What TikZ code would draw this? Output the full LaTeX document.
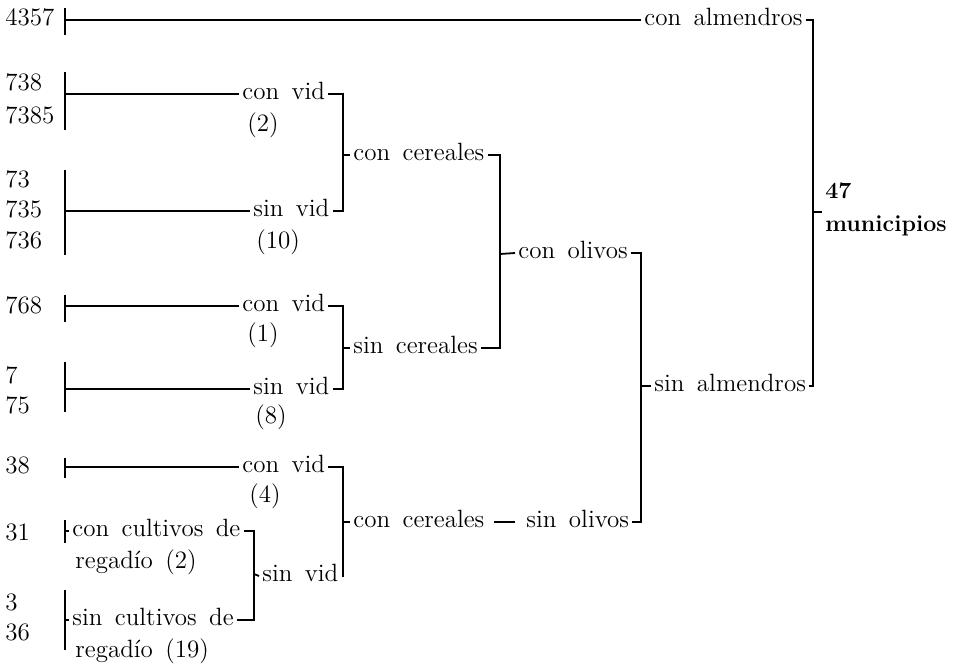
\documentclass[tikz,border=0pt]{standalone}
\usepackage{tikz}
\tikzset{
	lbl/.style = {anchor=west, inner sep=1.5pt, text height=1.6ex, text depth=0.3ex,
		font={\fontsize{12.5}{15}\selectfont\spaceskip=0.5em plus 0.1em}},
	num/.style = {lbl},
	tot/.style = {lbl, font={\fontsize{11.6}{14}\selectfont\bfseries}},
	brk/.style = {line width=1.4pt},
	stem/.style = {line width=0.9pt}
}

\begin{document}
\begin{tikzpicture}[x=0.5pt, y=-0.5pt]
\useasboundingbox (0,0) rectangle (953,669);

% 4357
\node[num] (n4357) at (2,20) {4357};
\coordinate (a1) at (65,8);
\coordinate (a2) at (65,35);
\node[lbl] (ca) at (641,20) {con almendros};
\draw[brk] (a1) -- (a2);
\draw[stem] (a1 |- ca) -- (ca.west);

% 738, 7385
\node[num] (n738) at (2,85) {738};
\node[num] (n7385) at (2,118) {7385};
\coordinate (b1) at (65,72);
\coordinate (b2) at (65,130);
\node[lbl] (cv1) at (239,94) {con vid};
\node[lbl] (cv1n) at (244,126) {(2)};
\draw[brk] (b1) -- (b2);
\draw[stem] (b1 |- cv1) -- (cv1.west);

% 73, 735, 736
\node[num] (n73) at (2,182) {73};
\node[num] (n735) at (2,212) {735};
\node[num] (n736) at (2,243) {736};
\coordinate (c1) at (65,170);
\coordinate (c2) at (65,255);
\node[lbl] (sv1) at (250,211) {sin vid};
\node[lbl] (sv1n) at (253,243) {(10)};
\draw[brk] (c1) -- (c2);
\draw[stem] (c1 |- sv1) -- (sv1.west);

% 768
\node[num] (n768) at (2,308) {768};
\coordinate (d1) at (65,295);
\coordinate (d2) at (65,322);
\node[lbl] (cv2) at (239,306) {con vid};
\node[lbl] (cv2n) at (244,336) {(1)};
\draw[brk] (d1) -- (d2);
\draw[stem] (d1 |- cv2) -- (cv2.west);

% 7, 75
\node[num] (n7) at (2,378) {7};
\node[num] (n75) at (2,408) {75};
\coordinate (e1) at (65,362);
\coordinate (e2) at (65,412);
\node[lbl] (sv2) at (250,389) {sin vid};
\node[lbl] (sv2n) at (252,418) {(8)};
\draw[brk] (e1) -- (e2);
\draw[stem] (e1 |- sv2) -- (sv2.west);

% 38
\node[num] (n38) at (2,468) {38};
\coordinate (f1) at (65,458);
\coordinate (f2) at (65,478);
\node[lbl] (cv3) at (239,467) {con vid};
\node[lbl] (cv3n) at (246,497) {(4)};
\draw[brk] (f1) -- (f2);
\draw[stem] (f1 |- cv3) -- (cv3.west);

% 31
\node[num] (n31) at (2,535) {31};
\coordinate (g1) at (65,520);
\coordinate (g2) at (65,543);
\node[lbl] (ccr) at (69,531) {con cultivos de};
\node[lbl] (ccrn) at (72,563) {regad\'io (2)};
\draw[brk] (g1) -- (g2);
\draw[stem] (g1 |- ccr) -- (ccr.west);

% 3, 36
\node[num] (n3) at (2,605) {3};
\node[num] (n36) at (2,635) {36};
\coordinate (h1) at (65,590);
\coordinate (h2) at (65,650);
\node[lbl] (scr) at (69,620) {sin cultivos de};
\node[lbl] (scrn) at (72,652) {regad\'io (19)};
\draw[brk] (h1) -- (h2);
\draw[stem] (h1 |- scr) -- (scr.west);

% regadio -> sin vid
\coordinate (k1) at (254,574);
\node[lbl] (sv3) at (259,576) {sin vid};
\draw[brk] (ccr.east) -| (k1) |- (scr.east);
\draw[stem] (k1) -- (sv3.west);

% vid -> cereales
\coordinate (k2) at (343,155);
\node[lbl] (cc1) at (350,155) {con cereales};
\draw[brk] (cv1.east) -| (k2) |- (sv1.east);
\draw[stem] (k2) -- (cc1.west);

\coordinate (k3) at (343,348);
\node[lbl] (sc1) at (350,348) {sin cereales};
\draw[brk] (cv2.east) -| (k3) |- (sv2.east);
\draw[stem] (k3) -- (sc1.west);

\coordinate (k4) at (343,522);
\node[lbl] (cc2) at (350,522) {con cereales};
\draw[brk] (cv3.east) -| (k4) |- (sv3.east);
\draw[stem] (k4) -- (cc2.west);

% cereales -> olivos
\coordinate (k5) at (500,254);
\node[lbl] (co) at (515,253) {con olivos};
\draw[brk] (cc1.east) -| (k5) |- (sc1.east);
\draw[stem] (k5) -- (co.west);

\node[lbl] (so) at (523,522) {sin olivos};
\draw[stem, shorten <=3pt, shorten >=4pt] (cc2.east) -- (so.west);

% olivos -> almendros
\coordinate (k6) at (641,386);
\node[lbl] (sa) at (651,386) {sin almendros};
\draw[brk] (co.east) -| (k6) |- (so.east);
\draw[stem] (k6) -- (sa.west);

% almendros -> total
\coordinate (k7) at (813,212);
\node[tot] (t47) at (822,193) {47};
\node[tot] (tmun) at (822,226) {municipios};
\draw[brk] (ca.east) -| (k7) |- (sa.east);
\draw[stem] (k7) -- (t47.west |- k7);
\end{tikzpicture}
\end{document}
